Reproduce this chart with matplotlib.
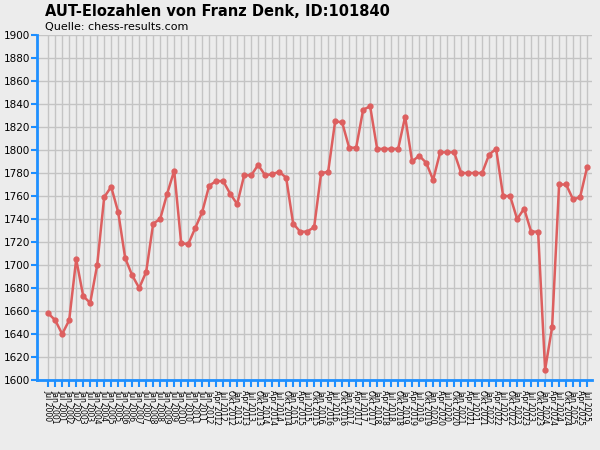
import matplotlib
matplotlib.use("Agg")
import matplotlib.pyplot as plt

elo = [1658,1652,1640,1652,1705,1673,1667,1700,1759,1768,
       1746,1706,1691,1680,1694,1736,1740,1762,1782,1719,
       1718,1732,1746,1769,1773,1773,1762,1753,1778,1778,
       1787,1778,1779,1781,1776,1736,1729,1729,1733,1780,
       1781,1825,1824,1802,1802,1835,1838,1801,1801,1801,
       1801,1829,1790,1795,1789,1774,1798,1798,1798,1780,
       1780,1780,1780,1796,1801,1760,1760,1740,1749,1729,
       1729,1609,1646,1770,1770,1757,1759,1785]
semi_years = list(range(2000, 2012))
quarter_years = list(range(2012, 2026))
labels = []
for y in semi_years:
    if y > 2000:
        labels.append(f"Jan {y}")
    labels.append(f"Jul {y}")
for y in quarter_years:
    for m in ["Jan", "Apr", "Jul", "Okt"]:
        labels.append(f"{m} {y}")
labels = labels[:len(elo)]

bg = "#ececec"
blue = "#1e8fff"
fig = plt.figure(figsize=(6, 4.5), dpi=100, facecolor=bg)
ax = fig.add_axes([37/600, 70/450, 555/600, 345/450], facecolor=bg)
x = list(range(len(elo)))
ax.plot(x, elo, color="#dd5f5f", lw=1.8, marker="o", ms=3.5, zorder=3)
ax.set_ylim(1600, 1900)
ax.set_xlim(-1.6, 77.7)
ax.set_yticks(range(1600, 1901, 20))
ax.set_xticks(x)
ax.set_xticklabels(labels, rotation=-90, fontsize=5.5)
ax.tick_params(axis="y", labelsize=7.5, colors=blue, labelcolor="black", length=4, width=1.5, pad=1)
ax.tick_params(axis="x", colors=blue, labelcolor="black", length=5, width=1.5, pad=2)
ax.grid(True, color="#c4c4c4", lw=1)
ax.set_axisbelow(True)
for s in ["top", "right"]:
    ax.spines[s].set_visible(False)
for s in ["left", "bottom"]:
    ax.spines[s].set_color(blue)
    ax.spines[s].set_linewidth(2)
fig.text(45/600, 1 - 12/450, "AUT-Elozahlen von Franz Denk, ID:101840", fontsize=10.5, fontweight="bold", va="center")
fig.text(45/600, 1 - 27/450, "Quelle: chess-results.com", fontsize=8, va="center")
fig.savefig("out.png", dpi=100, facecolor=bg)
